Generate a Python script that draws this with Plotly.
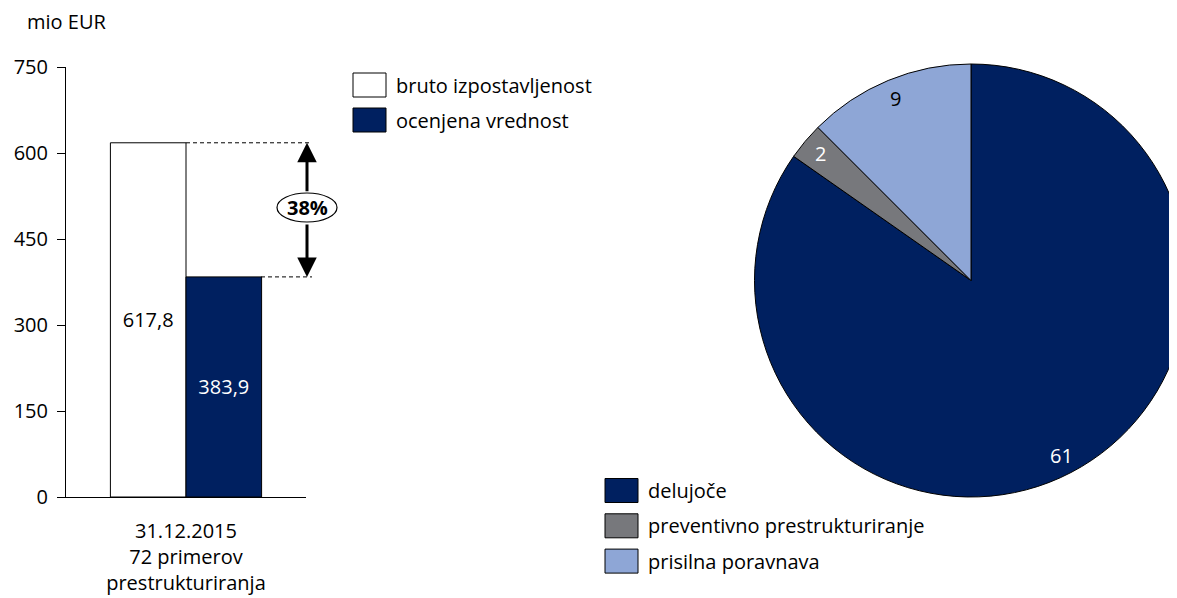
import math
import plotly.graph_objects as go

# data
bar_category = ["31.12.2015<br>72 primerov<br>prestrukturiranja"]
bar_series = ["bruto izpostavljenost", "ocenjena vrednost"]
bruto = [617.8]
ocenjena = [383.9]
bar_colors = ["#FFFFFF", "#002060"]
change_label = "38%"

pie_labels = ["delujoče", "preventivno prestrukturiranje", "prisilna poravnava"]
pie_values = [61, 2, 9]
pie_colors = ["#002060", "#77787C", "#8EA6D6"]
pie_text_colors = ["white", "white", "black"]

y_ticks = [0, 150, 300, 450, 600, 750]

FONT = "Open Sans"

# page body has an 8px margin, figure sits at (8, 8)
OFF = 8
W, H = 1180, 590


def px(x):
    return (x - OFF) / W


def py(y):
    return (H - (y - OFF)) / H


fig = go.Figure()

fig.add_trace(go.Bar(
    x=bar_category, y=bruto, name=bar_series[0],
    marker=dict(color=bar_colors[0], line=dict(color="black", width=1)),
    texttemplate="%{y:.1f}", textposition="inside", insidetextanchor="middle",
    textfont=dict(color="black", size=20, family=FONT),
    showlegend=False,
))
fig.add_trace(go.Bar(
    x=bar_category, y=ocenjena, name=bar_series[1],
    marker=dict(color=bar_colors[1], line=dict(color="black", width=1)),
    texttemplate="%{y:.1f}", textposition="inside", insidetextanchor="middle",
    textfont=dict(color="white", size=20, family=FONT),
    showlegend=False,
))

# pie (right part runs past the window edge, as in the original)
pie_x0, pie_x1 = 754.5, 1187.5
pie_y0, pie_y1 = 64, 497
fig.add_trace(go.Pie(
    labels=pie_labels, values=pie_values, sort=False, direction="clockwise",
    rotation=0, textinfo="none",
    marker=dict(colors=pie_colors, line=dict(color="black", width=1)),
    domain=dict(x=[px(pie_x0), px(pie_x1)], y=[py(pie_y1), py(pie_y0)]),
    showlegend=False,
))

annotations = []
shapes = []

# pie value labels along slice bisectors
cx = (pie_x0 + pie_x1) / 2
cy = (pie_y0 + pie_y1) / 2
R = (pie_x1 - pie_x0) / 2
total = sum(pie_values)
cum = 0
for v, col in zip(pie_values, pie_text_colors):
    mid = (cum + v / 2) / total * 2 * math.pi
    cum += v
    tx = cx + 0.91 * R * math.sin(mid)
    ty = cy - 0.91 * R * math.cos(mid)
    annotations.append(dict(
        x=px(tx), y=py(ty), xref="paper", yref="paper", text=str(v),
        xanchor="center", yanchor="middle",
        showarrow=False, font=dict(color=col, size=20, family=FONT),
    ))

# y axis title
annotations.append(dict(
    x=px(25), y=py(22), xref="paper", yref="paper", text="mio EUR",
    xanchor="left", yanchor="middle",
    showarrow=False, font=dict(size=20, family=FONT, color="black"),
))


# custom legends
def legend_item(x, yc, color, text):
    shapes.append(dict(
        type="rect", xref="paper", yref="paper",
        x0=px(x), x1=px(x + 33), y0=py(yc + 12), y1=py(yc - 12),
        fillcolor=color, line=dict(color="black", width=1),
    ))
    annotations.append(dict(
        x=px(x + 41), y=py(yc), xref="paper", yref="paper", text=text,
        xanchor="left", yanchor="middle", showarrow=False,
        font=dict(size=20, family=FONT, color="black"),
    ))


for i, (name, col) in enumerate(zip(bar_series, bar_colors)):
    legend_item(353, 85 + 35 * i, col, name)
for i, (name, col) in enumerate(zip(pie_labels, pie_colors)):
    legend_item(605, 490.5 + 35.3 * i, col, name)

# difference marker between bars
dash = "4px,3px"
shapes.append(dict(type="line", xref="paper", yref="y", x0=px(186), x1=px(312),
                   y0=bruto[0], y1=bruto[0], line=dict(color="black", width=1, dash=dash)))
shapes.append(dict(type="line", xref="paper", yref="y", x0=px(261), x1=px(312),
                   y0=ocenjena[0], y1=ocenjena[0], line=dict(color="black", width=1, dash=dash)))
annotations.append(dict(
    x=px(307), y=bruto[0], xref="paper", yref="y", ax=0, ay=50,
    axref="pixel", ayref="pixel", text="", showarrow=True,
    arrowhead=2, arrowsize=1.3, arrowwidth=3, arrowcolor="black",
))
annotations.append(dict(
    x=px(307), y=ocenjena[0], xref="paper", yref="y", ax=0, ay=-54,
    axref="pixel", ayref="pixel", text="", showarrow=True,
    arrowhead=2, arrowsize=1.3, arrowwidth=3, arrowcolor="black",
))
shapes.append(dict(type="circle", xref="paper", yref="paper",
                   x0=px(277), x1=px(337), y0=py(222), y1=py(193),
                   fillcolor="white", line=dict(color="black", width=1.2)))
annotations.append(dict(
    x=px(307), y=py(207.5), xref="paper", yref="paper", text=change_label,
    xanchor="center", yanchor="middle",
    showarrow=False, font=dict(size=20, family=FONT, color="black", weight="bold"),
))

fig.update_layout(
    width=W, height=H,
    margin=dict(l=0, r=0, t=0, b=0, autoexpand=False),
    paper_bgcolor="white", plot_bgcolor="white",
    separators=",.",
    barmode="group", bargap=0.37, bargroupgap=0,
    font=dict(family=FONT, size=20, color="black"),
    xaxis=dict(
        domain=[px(66), px(306)], automargin=False,
        showline=True, linecolor="black", linewidth=1,
        ticks="", showgrid=False, zeroline=False,
        tickfont=dict(size=20, family=FONT, color="black"),
        ticklabelstandoff=16,
    ),
    yaxis=dict(
        domain=[py(497), py(67)], automargin=False,
        range=[0, 750], tickvals=y_ticks,
        showline=True, linecolor="black", linewidth=1,
        ticks="outside", ticklen=8, tickcolor="black",
        showgrid=False, zeroline=False,
        tickfont=dict(size=20, family=FONT, color="black"),
        ticklabelstandoff=5,
    ),
    shapes=shapes,
    annotations=annotations,
)

fig.write_html("out.html")
